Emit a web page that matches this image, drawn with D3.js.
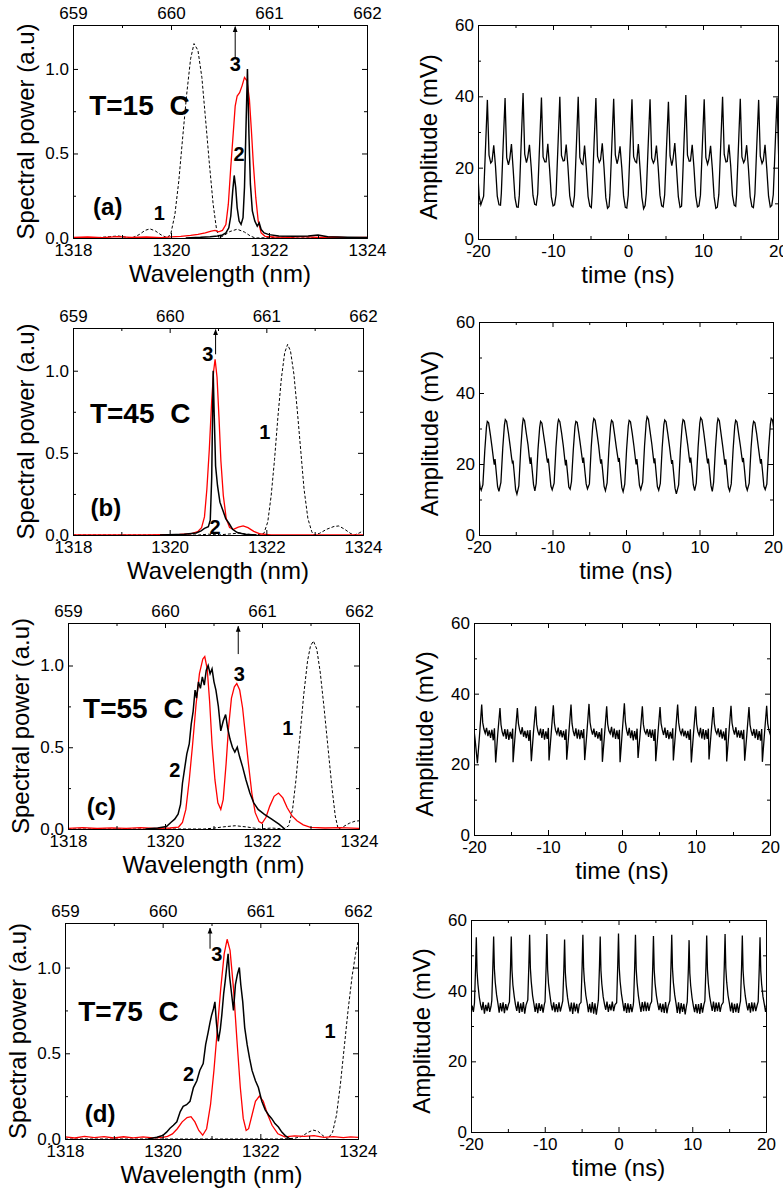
<!DOCTYPE html>
<html>
<head>
<meta charset="utf-8">
<script src="https://d3js.org/d3.v7.min.js"></script>
<style>
  body { margin: 0; background: #fff; }
  svg text { font-family: "Liberation Sans", Arial, sans-serif; fill: #000; }
</style>
</head>
<body>
<svg id="fig" width="783" height="1194"></svg>
<script>
// ---- axis ticks ----
var wlRange = [1318, 1324];
var halfRange = [659, 662];
var wlTicks = [1318, 1320, 1322, 1324];
var wlMinor = [1319, 1321, 1323];
var halfTicks = [659, 660, 661, 662];
var halfMinor = [659.5, 660.5, 661.5];
var powerRange = [0, 1.26];
var powerTicks = [0, 0.5, 1.0];
var powerMinor = [0.25, 0.75];
var timeRange = [-20, 20];
var timeTicks = [-20, -10, 0, 10, 20];
var timeMinor = [-15, -5, 5, 15];
var ampRange = [0, 60];
var ampTicks = [0, 20, 40, 60];
var ampMinor = [10, 30, 50];

// ---- spectra, [wavelength nm, power a.u.] ----
var dashA = [[1318.0,0],[1318.5,0.002],[1318.75,0.008],[1318.92,0.012],[1319.1,0.004],[1319.2,0.0],[1319.35,0.02],[1319.47,0.045],[1319.57,0.054],[1319.68,0.042],[1319.8,0.018],[1319.93,0.0],[1320.0,0.03],[1320.08,0.14],[1320.16,0.34],[1320.24,0.6],[1320.32,0.85],[1320.4,1.06],[1320.47,1.15],[1320.55,1.11],[1320.63,0.95],[1320.7,0.72],[1320.78,0.45],[1320.86,0.2],[1320.93,0.05],[1320.98,0.0],[1321.08,0.015],[1321.2,0.038],[1321.35,0.052],[1321.5,0.035],[1321.62,0.012],[1321.72,0.0],[1322.0,0.002],[1322.3,0.006],[1322.6,0.0],[1323.0,0.002],[1324.0,0.0]];
var redA = [[1318.0,0.003],[1318.3,0.006],[1318.6,0.002],[1318.9,0.008],[1319.2,0.003],[1319.5,0.006],[1319.8,0.002],[1320.0,0.007],[1320.2,0.01],[1320.4,0.015],[1320.55,0.022],[1320.7,0.03],[1320.82,0.04],[1320.9,0.045],[1320.97,0.036],[1321.05,0.045],[1321.12,0.08],[1321.17,0.2],[1321.22,0.42],[1321.27,0.62],[1321.31,0.78],[1321.35,0.84],[1321.4,0.86],[1321.45,0.9],[1321.5,0.95],[1321.55,0.93],[1321.6,0.82],[1321.64,0.64],[1321.68,0.44],[1321.73,0.24],[1321.78,0.1],[1321.84,0.03],[1321.92,0.01],[1322.1,0.006],[1322.4,0.004],[1322.7,0.008],[1323.0,0.003],[1323.3,0.006],[1323.6,0.002],[1324.0,0.004]];
var blackA = [[1320.3,0.0],[1320.6,0.004],[1320.8,0.008],[1320.95,0.012],[1321.05,0.018],[1321.12,0.03],[1321.18,0.06],[1321.22,0.13],[1321.26,0.28],[1321.29,0.37],[1321.32,0.3],[1321.35,0.18],[1321.39,0.1],[1321.43,0.08],[1321.47,0.12],[1321.5,0.3],[1321.53,0.65],[1321.56,1.0],[1321.59,0.62],[1321.62,0.32],[1321.66,0.16],[1321.71,0.1],[1321.76,0.07],[1321.8,0.09],[1321.84,0.05],[1321.9,0.03],[1322.0,0.02],[1322.2,0.012],[1322.5,0.01],[1322.8,0.012],[1323.0,0.018],[1323.2,0.008],[1323.6,0.005],[1324.0,0.003]];

var dashB = [[1318.0,0],[1320.6,0.0],[1320.8,0.005],[1321.0,0.0],[1321.3,0.008],[1321.45,0.012],[1321.6,0.005],[1321.8,0.0],[1321.95,0.01],[1322.03,0.08],[1322.1,0.24],[1322.17,0.46],[1322.24,0.72],[1322.31,0.95],[1322.38,1.11],[1322.44,1.16],[1322.5,1.12],[1322.57,0.98],[1322.64,0.76],[1322.71,0.52],[1322.78,0.28],[1322.86,0.1],[1322.94,0.02],[1322.98,0.0],[1323.1,0.01],[1323.25,0.035],[1323.4,0.052],[1323.5,0.055],[1323.62,0.035],[1323.75,0.008],[1323.82,0.0],[1323.92,0.012],[1324.0,0.025]];
var redB = [[1318.0,0.001],[1319.5,0.001],[1320.2,0.003],[1320.45,0.008],[1320.58,0.02],[1320.66,0.045],[1320.72,0.11],[1320.77,0.28],[1320.82,0.52],[1320.87,0.82],[1320.91,1.0],[1320.94,1.07],[1320.98,0.96],[1321.02,0.72],[1321.06,0.45],[1321.11,0.24],[1321.17,0.1],[1321.24,0.045],[1321.32,0.035],[1321.42,0.048],[1321.52,0.055],[1321.62,0.045],[1321.74,0.022],[1321.88,0.006],[1322.1,0.001],[1324.0,0.0]];
var blackB = [[1319.8,0.0],[1320.3,0.004],[1320.55,0.012],[1320.65,0.025],[1320.72,0.04],[1320.8,0.05],[1320.84,0.09],[1320.87,0.35],[1320.9,1.0],[1320.92,0.75],[1320.95,0.42],[1320.99,0.3],[1321.04,0.2],[1321.1,0.15],[1321.16,0.1],[1321.23,0.07],[1321.3,0.035],[1321.4,0.015],[1321.55,0.005],[1321.8,0.0]];

var dashC = [[1318.0,0],[1320.8,0.0],[1321.0,0.005],[1321.2,0.013],[1321.45,0.02],[1321.7,0.012],[1321.95,0.0],[1322.2,0.006],[1322.45,0.0],[1322.55,0.02],[1322.63,0.12],[1322.7,0.3],[1322.78,0.56],[1322.86,0.82],[1322.94,1.03],[1323.0,1.12],[1323.06,1.15],[1323.13,1.1],[1323.2,0.96],[1323.28,0.74],[1323.36,0.5],[1323.44,0.26],[1323.51,0.08],[1323.57,0.0],[1323.68,0.015],[1323.8,0.035],[1323.92,0.048],[1324.0,0.05]];
var redC = [[1318.0,0.004],[1318.3,0.008],[1318.6,0.003],[1318.9,0.007],[1319.2,0.004],[1319.5,0.008],[1319.8,0.003],[1320.1,0.006],[1320.28,0.012],[1320.36,0.04],[1320.43,0.12],[1320.5,0.3],[1320.57,0.52],[1320.64,0.76],[1320.71,0.95],[1320.78,1.04],[1320.82,1.055],[1320.87,0.98],[1320.92,0.78],[1320.97,0.52],[1321.03,0.3],[1321.09,0.16],[1321.15,0.12],[1321.2,0.18],[1321.26,0.4],[1321.31,0.62],[1321.37,0.8],[1321.43,0.87],[1321.48,0.89],[1321.54,0.85],[1321.6,0.74],[1321.66,0.57],[1321.72,0.4],[1321.79,0.22],[1321.86,0.1],[1321.94,0.045],[1322.0,0.035],[1322.08,0.07],[1322.16,0.14],[1322.25,0.2],[1322.34,0.22],[1322.43,0.19],[1322.52,0.13],[1322.62,0.08],[1322.72,0.05],[1322.85,0.025],[1323.0,0.01],[1323.3,0.006],[1323.6,0.008],[1324.0,0.004]];
var blackC = [[1319.6,0.0],[1319.85,0.006],[1320.03,0.015],[1320.12,0.04],[1320.2,0.06],[1320.27,0.09],[1320.32,0.15],[1320.36,0.28],[1320.41,0.38],[1320.45,0.46],[1320.5,0.52],[1320.54,0.64],[1320.58,0.72],[1320.62,0.85],[1320.65,0.8],[1320.69,0.9],[1320.73,0.86],[1320.77,0.93],[1320.81,0.88],[1320.85,0.97],[1320.89,1.0],[1320.93,0.95],[1320.97,0.98],[1321.01,0.9],[1321.05,0.85],[1321.1,0.75],[1321.15,0.6],[1321.2,0.66],[1321.25,0.7],[1321.29,0.62],[1321.34,0.55],[1321.39,0.5],[1321.44,0.47],[1321.49,0.5],[1321.54,0.44],[1321.6,0.38],[1321.67,0.3],[1321.75,0.22],[1321.83,0.16],[1321.92,0.12],[1322.05,0.09],[1322.2,0.06],[1322.35,0.03],[1322.47,0.0]];

var dashD = [[1318.0,0.0],[1322.4,0.0],[1322.7,0.004],[1322.85,0.015],[1322.97,0.038],[1323.08,0.052],[1323.18,0.045],[1323.28,0.02],[1323.38,0.0],[1323.48,0.04],[1323.56,0.14],[1323.64,0.32],[1323.72,0.54],[1323.8,0.76],[1323.88,0.95],[1323.95,1.08],[1324.0,1.15]];
var redD = [[1318.0,0.012],[1318.2,0.006],[1318.4,0.015],[1318.6,0.008],[1318.8,0.014],[1319.0,0.006],[1319.2,0.013],[1319.4,0.007],[1319.6,0.012],[1319.8,0.006],[1320.0,0.01],[1320.1,0.015],[1320.2,0.03],[1320.3,0.06],[1320.4,0.1],[1320.5,0.125],[1320.58,0.13],[1320.66,0.1],[1320.74,0.05],[1320.82,0.022],[1320.9,0.06],[1320.98,0.2],[1321.05,0.4],[1321.12,0.64],[1321.19,0.88],[1321.26,1.08],[1321.32,1.165],[1321.38,1.1],[1321.45,0.88],[1321.52,0.58],[1321.59,0.3],[1321.65,0.12],[1321.71,0.05],[1321.76,0.06],[1321.83,0.14],[1321.9,0.22],[1321.98,0.25],[1322.06,0.22],[1322.14,0.15],[1322.24,0.08],[1322.36,0.03],[1322.5,0.012],[1322.7,0.018],[1322.9,0.015],[1323.1,0.02],[1323.3,0.01],[1323.5,0.014],[1323.7,0.008],[1323.85,0.012],[1324.0,0.01]];
var blackD = [[1319.7,0.0],[1319.88,0.01],[1320.0,0.02],[1320.08,0.04],[1320.15,0.063],[1320.22,0.08],[1320.29,0.1],[1320.36,0.16],[1320.42,0.19],[1320.49,0.2],[1320.56,0.22],[1320.63,0.3],[1320.7,0.34],[1320.76,0.4],[1320.83,0.44],[1320.88,0.55],[1320.93,0.62],[1320.97,0.68],[1321.0,0.72],[1321.04,0.76],[1321.07,0.8],[1321.1,0.68],[1321.14,0.57],[1321.18,0.64],[1321.21,0.72],[1321.25,0.85],[1321.28,0.92],[1321.31,1.0],[1321.34,1.08],[1321.37,0.95],[1321.41,0.85],[1321.45,0.75],[1321.49,0.9],[1321.53,0.96],[1321.57,1.0],[1321.6,0.9],[1321.64,0.8],[1321.68,0.65],[1321.73,0.55],[1321.78,0.47],[1321.83,0.4],[1321.9,0.34],[1321.96,0.3],[1322.03,0.22],[1322.1,0.17],[1322.17,0.14],[1322.23,0.12],[1322.3,0.09],[1322.37,0.07],[1322.44,0.04],[1322.51,0.02],[1322.61,0.0]];

// arrows [wavelength, from power, to power]
var arrowA = [1321.31, 1.07, 1.25];
var arrowB = [1320.95, 1.10, 1.25];
var arrowC = [1321.51, 1.07, 1.24];
var arrowD = [1320.97, 1.11, 1.23];

// curve numbers [text, wavelength, power]
var numsA = [["1", 1319.76, 0.15], ["2", 1321.39, 0.5], ["3", 1321.31, 1.03]];
var numsB = [["1", 1321.97, 0.63], ["2", 1320.94, 0.05], ["3", 1320.79, 1.10]];
var numsC = [["1", 1322.53, 0.62], ["2", 1320.2, 0.36], ["3", 1321.53, 0.95]];
var numsD = [["1", 1323.43, 0.63], ["2", 1320.53, 0.38], ["3", 1321.11, 1.08]];

var tags = ["(a)", "(b)", "(c)", "(d)"];
var tagPos = [[1318.71, 0.19], [1318.68, 0.17], [1318.69, 0.14], [1318.72, 0.15]];
var temps = ["T=15 C", "T=45 C", "T=55 C", "T=75 C"];
var tempPos = [[1318.33, 0.73], [1318.35, 0.68], [1318.31, 0.68], [1318.27, 0.69]];

// ---- time traces: peak times (ns), sample offsets from each peak, values (mV) per period ----
var startA = [[-20, 17.5], [-19.85, 12.0], [-19.62, 9.6]];
var peaksA = [-18.75, -16.39, -13.99, -11.54, -9.09, -6.64, -4.28, -1.91, 0.53, 2.94, 5.39, 7.71, 10.16, 12.61, 14.97, 17.42, 19.87];
var offsetsA = [-0.5, -0.25, 0, 0.22, 0.45, 0.62, 0.85, 1.08, 1.32, 1.55, 1.75];
var rowsA = [
  [12.0, 25.5, 39.0, 23.5, 21.3, 21.8, 26.3, 20.5, 12.0, 9.6, 9.5],
  [12.8, 26.5, 39.5, 22.8, 20.8, 22.4, 26.6, 19.5, 11.5, 9.0, 8.9],
  [12.3, 27.0, 40.9, 23.8, 21.4, 22.9, 26.4, 20.2, 12.2, 9.7, 9.5],
  [12.6, 26.2, 39.7, 23.0, 21.6, 21.6, 26.7, 19.8, 11.8, 9.3, 9.6],
  [12.4, 26.0, 39.9, 23.4, 21.9, 22.0, 26.5, 20.4, 12.1, 9.4, 9.0],
  [12.1, 25.8, 39.9, 22.9, 21.2, 20.9, 26.2, 19.9, 11.9, 9.2, 8.8],
  [12.7, 26.4, 39.5, 23.2, 21.5, 22.2, 26.8, 20.1, 11.6, 8.6, 9.1],
  [12.5, 26.1, 39.3, 23.6, 21.1, 22.6, 26.0, 20.0, 12.0, 8.9, 8.7],
  [12.2, 25.7, 39.2, 23.1, 21.7, 21.4, 26.6, 19.6, 11.7, 8.5, 9.4],
  [12.9, 26.3, 39.2, 22.7, 21.3, 22.1, 26.2, 20.3, 12.3, 9.3, 9.0],
  [12.4, 25.9, 38.5, 23.3, 20.6, 22.5, 26.9, 19.7, 11.9, 8.9, 9.2],
  [12.6, 26.6, 40.4, 23.5, 21.8, 21.9, 26.4, 20.2, 12.1, 9.0, 9.3],
  [12.3, 26.0, 39.2, 22.9, 21.0, 22.3, 26.1, 19.9, 11.8, 8.6, 8.9],
  [12.5, 26.2, 39.9, 23.7, 21.6, 21.7, 26.5, 20.6, 12.2, 9.5, 9.2],
  [12.2, 25.6, 39.3, 23.0, 21.4, 22.2, 26.3, 20.1, 11.9, 9.1, 8.8],
  [12.7, 26.3, 39.0, 23.2, 21.2, 22.0, 26.4, 19.8, 12.0, 9.0, 9.4],
  [12.4, 26.0, 39.7, 23.1, 21.4, 22.0, 26.5, 20.0, 12.0, 9.3, 9.4]
];

var startB = [[-20, 16.4], [-19.85, 13.4], [-19.7, 12.6]];
var peaksB = [-18.87, -16.42, -13.98, -11.62, -9.18, -6.82, -4.38, -1.97, 0.43, 2.87, 5.27, 7.76, 10.16, 12.52, 14.92, 17.36, 19.76];
var offsetsB = [-0.6, -0.35, -0.12, 0, 0.18, 0.42, 0.65, 0.85, 0.95, 1.05, 1.22, 1.4, 1.58];
var rowsB = [
  [14.2, 23.5, 30.3, 32.0, 31.6, 28.2, 24.6, 21.2, 19.8, 21.4, 17.6, 13.6, 12.3],
  [14.8, 24.4, 31.0, 32.5, 32.0, 28.8, 25.2, 21.8, 20.5, 21.0, 17.2, 12.8, 11.5],
  [13.8, 23.8, 30.8, 32.8, 32.2, 28.6, 25.4, 21.4, 20.0, 21.9, 18.2, 14.2, 12.4],
  [14.5, 24.2, 30.4, 32.0, 31.5, 28.0, 24.8, 21.6, 20.4, 21.5, 17.9, 13.8, 12.7],
  [14.6, 24.6, 31.2, 32.5, 31.9, 28.7, 25.1, 21.3, 19.6, 21.2, 17.5, 13.5, 12.9],
  [15.0, 24.0, 30.6, 32.0, 31.7, 28.4, 24.9, 21.7, 20.3, 21.8, 18.1, 14.4, 13.0],
  [14.4, 24.8, 31.4, 32.8, 32.3, 28.9, 25.3, 21.5, 20.1, 21.3, 17.8, 13.7, 12.5],
  [14.7, 24.3, 30.9, 32.3, 31.8, 28.3, 24.7, 21.9, 20.6, 21.7, 17.4, 13.4, 12.2],
  [14.3, 24.1, 30.7, 32.3, 31.9, 28.6, 25.0, 21.4, 19.9, 21.4, 18.0, 14.0, 12.8],
  [14.9, 25.0, 31.8, 33.3, 32.6, 29.0, 25.5, 21.8, 20.2, 21.6, 17.7, 13.6, 12.6],
  [14.5, 24.5, 31.1, 32.4, 31.9, 28.5, 24.9, 21.5, 20.0, 21.1, 17.3, 13.2, 11.6],
  [14.1, 24.2, 30.9, 32.5, 32.1, 28.7, 25.2, 21.7, 20.4, 21.8, 18.3, 14.1, 12.5],
  [14.6, 24.7, 31.5, 33.0, 32.4, 28.9, 25.1, 21.6, 20.2, 21.5, 17.9, 13.9, 12.3],
  [14.8, 24.4, 31.3, 32.8, 32.2, 28.4, 24.8, 21.4, 19.8, 21.3, 17.6, 13.5, 12.4],
  [14.4, 24.0, 30.8, 32.3, 31.8, 28.3, 25.0, 21.8, 20.5, 21.7, 18.0, 13.8, 12.6],
  [14.6, 24.3, 30.6, 32.0, 31.6, 28.5, 24.7, 21.5, 20.1, 21.4, 17.8, 13.7, 12.8],
  [14.3, 24.6, 31.2, 32.8, 32.3, 28.8, 25.2, 21.6, 20.3, 21.6, 17.9, 13.8, 12.6]
];

var startC = [[-20, 29.8], [-19.85, 27.0]];
var peaksC = [-18.96, -16.49, -14.14, -11.67, -9.28, -6.89, -4.46, -2.07, 0.32, 2.75, 5.14, 7.52, 9.95, 12.34, 14.73, 17.16, 19.55];
var offsetsC = [-0.58, -0.3, 0, 0.14, 0.3, 0.48, 0.66, 0.84, 1.02, 1.2, 1.38, 1.56, 1.72];
var rowsC = [
  [20.3, 28.0, 36.9, 31.8, 30.0, 28.8, 30.3, 28.0, 29.6, 27.5, 29.8, 26.8, 30.2],
  [20.5, 28.6, 35.9, 31.2, 29.2, 27.9, 30.0, 27.2, 29.9, 26.9, 29.2, 27.3, 30.1],
  [20.6, 28.3, 35.9, 31.6, 29.8, 28.5, 30.5, 27.8, 29.5, 27.4, 29.6, 26.6, 29.7],
  [20.9, 28.9, 36.4, 31.3, 29.4, 28.2, 30.1, 27.5, 30.0, 27.0, 29.3, 27.2, 30.3],
  [21.1, 28.4, 36.7, 31.7, 29.6, 28.6, 30.4, 27.9, 29.7, 27.6, 29.5, 26.9, 29.9],
  [21.3, 28.7, 36.9, 31.5, 29.3, 28.0, 30.2, 27.3, 29.8, 27.1, 29.7, 27.4, 30.0],
  [21.2, 28.5, 37.1, 31.9, 29.9, 28.4, 30.1, 27.7, 29.4, 27.3, 29.1, 26.7, 30.2],
  [20.7, 28.2, 36.4, 31.4, 29.5, 28.7, 30.6, 27.6, 30.1, 27.2, 29.6, 27.1, 29.8],
  [20.6, 28.8, 37.3, 32.0, 29.7, 28.1, 30.3, 27.4, 29.6, 26.8, 29.4, 27.0, 30.1],
  [21.8, 28.6, 36.4, 31.3, 29.4, 28.6, 30.0, 27.8, 29.9, 27.5, 29.8, 26.6, 30.0],
  [20.9, 28.3, 36.2, 31.6, 29.8, 28.3, 30.4, 27.5, 29.7, 27.1, 29.2, 27.3, 30.2],
  [21.1, 28.7, 36.9, 31.8, 29.6, 28.5, 30.1, 27.9, 29.5, 27.4, 29.5, 26.9, 29.9],
  [20.5, 28.4, 36.4, 31.4, 29.3, 28.2, 30.3, 27.3, 30.0, 27.0, 29.7, 27.2, 30.1],
  [21.4, 28.8, 36.2, 31.5, 29.5, 28.6, 30.2, 27.7, 29.8, 27.3, 29.3, 26.8, 30.3],
  [20.8, 28.5, 36.6, 31.7, 29.8, 28.4, 30.5, 27.6, 29.6, 27.5, 29.6, 27.1, 29.8],
  [21.0, 28.2, 36.2, 31.2, 29.4, 28.1, 30.0, 27.4, 29.9, 26.9, 29.4, 26.7, 30.0],
  [20.7, 28.6, 36.6, 31.6, 29.7, 28.5, 30.3, 27.8, 29.7, 27.2, 29.5, 27.0, 30.1]
];

var startD = [[-20, 33.5], [-19.85, 35.8], [-19.68, 34.0]];
var peaksD = [-19.28, -16.93, -14.54, -12.05, -9.71, -7.31, -4.83, -2.48, 0.0, 2.30, 4.74, 7.22, 9.57, 11.96, 14.45, 16.79, 19.19];
var offsetsD = [-0.25, -0.1, 0, 0.1, 0.22, 0.4, 0.58, 0.75, 0.92, 1.1, 1.28, 1.46, 1.64, 1.82, 2.0];
var rowsD = [
  [36.5, 46.5, 55.1, 45.5, 41.8, 38.2, 36.0, 34.5, 36.8, 33.5, 36.0, 34.2, 36.6, 34.0, 35.6],
  [37.2, 47.4, 55.3, 46.2, 42.3, 38.8, 36.4, 33.8, 36.5, 34.1, 36.7, 33.6, 36.2, 34.4, 36.0],
  [36.8, 46.8, 55.3, 45.8, 41.6, 38.4, 35.9, 34.3, 36.9, 33.7, 36.4, 34.0, 36.8, 33.5, 35.9],
  [37.4, 47.6, 55.8, 46.4, 42.5, 38.6, 36.3, 34.0, 36.4, 33.6, 36.5, 34.3, 36.1, 33.8, 36.2],
  [36.9, 47.0, 56.0, 46.0, 42.0, 38.9, 36.1, 34.4, 36.7, 33.9, 36.2, 33.9, 36.7, 34.1, 35.7],
  [37.1, 46.2, 54.5, 45.2, 41.5, 38.1, 35.8, 34.1, 36.6, 33.4, 36.6, 34.1, 36.3, 33.6, 36.1],
  [36.7, 47.2, 55.8, 46.3, 42.4, 38.7, 36.5, 33.9, 36.3, 33.8, 36.8, 33.5, 36.4, 33.2, 35.8],
  [37.3, 46.9, 55.3, 45.7, 41.9, 38.3, 36.2, 34.6, 36.9, 34.0, 36.1, 34.4, 36.9, 34.2, 36.0],
  [36.6, 47.5, 56.2, 46.5, 42.6, 39.0, 36.6, 34.2, 36.5, 33.7, 36.4, 33.8, 36.2, 33.9, 35.9],
  [37.0, 47.1, 55.8, 46.1, 42.2, 38.5, 36.0, 34.0, 36.8, 34.2, 36.9, 34.2, 36.6, 34.3, 36.1],
  [36.9, 46.7, 55.5, 45.9, 42.0, 38.6, 36.3, 34.5, 36.4, 33.9, 36.3, 33.7, 36.8, 33.6, 35.7],
  [37.2, 47.3, 55.8, 46.3, 42.3, 38.8, 36.4, 33.7, 36.7, 33.5, 36.5, 34.0, 36.3, 33.3, 35.8],
  [36.8, 46.0, 54.3, 45.0, 41.4, 38.0, 35.7, 33.9, 36.2, 33.6, 36.2, 33.4, 36.5, 33.8, 36.0],
  [37.1, 47.0, 55.6, 46.0, 42.1, 38.4, 36.2, 34.3, 36.9, 34.0, 36.6, 34.2, 36.7, 34.0, 35.9],
  [36.7, 47.4, 56.0, 46.4, 42.4, 38.7, 36.5, 34.1, 36.6, 33.7, 36.3, 33.9, 36.4, 33.7, 36.1],
  [37.0, 46.8, 55.6, 45.8, 41.9, 38.5, 36.1, 34.4, 36.5, 33.8, 36.7, 34.1, 36.6, 34.2, 35.8],
  [36.9, 46.6, 55.1, 45.6, 41.8, 38.3, 36.2, 34.0, 36.5, 33.9, 36.4, 34.0, 36.5, 33.8, 35.9]
];

// ---- layout ----
var specBoxes = [
  {x0: 73, x1: 367, y0: 25, y1: 238},
  {x0: 73, x1: 363, y0: 328, y1: 535},
  {x0: 68, x1: 359, y0: 623, y1: 829},
  {x0: 65, x1: 358, y0: 923, y1: 1139}
];
var timeBoxes = [
  {x0: 478, x1: 778, y0: 25, y1: 239},
  {x0: 479, x1: 773, y0: 322, y1: 535},
  {x0: 474, x1: 770, y0: 623, y1: 835},
  {x0: 471, x1: 766, y0: 920, y1: 1132}
];

var svg = d3.select("#fig");
var defs = svg.append("defs");
defs.append("marker")
    .attr("id", "head")
    .attr("viewBox", "0 0 10 10")
    .attr("refX", 9).attr("refY", 5)
    .attr("markerWidth", 6).attr("markerHeight", 7)
    .attr("orient", "auto")
  .append("path")
    .attr("d", "M0,1 L10,5 L0,9 z")
    .attr("fill", "#000");

function styleAxis(sel) {
  sel.attr("font-family", null).attr("font-size", null);
  sel.selectAll("path, line").attr("stroke", "#000").attr("stroke-width", 1);
  sel.selectAll("text").style("font-size", "17px");
}

// box with inward ticks on four sides
function drawFrame(g, x, y, box, o) {
  var sides = [
    [d3.axisBottom, x, "translate(0," + box.y1 + ")", o.xMajor, o.xMinor, o.xFmt, 6],
    [d3.axisTop, o.xTop || x, "translate(0," + box.y0 + ")", o.topMajor || o.xMajor, o.topMinor || o.xMinor, o.topFmt, 6],
    [d3.axisLeft, y, "translate(" + box.x0 + ",0)", o.yMajor, o.yMinor, o.yFmt, 4],
    [d3.axisRight, y, "translate(" + box.x1 + ",0)", o.yMajor, o.yMinor, null, 4]
  ];
  sides.forEach(function (s) {
    var major = s[0](s[1]).tickValues(s[3]).tickSize(-5).tickSizeOuter(0).tickPadding(s[6])
        .tickFormat(s[5] ? s[5] : function () { return ""; });
    g.append("g").attr("transform", s[2]).call(major).call(styleAxis);
    var minor = s[0](s[1]).tickValues(s[4]).tickSize(-3).tickSizeOuter(0).tickFormat(function () { return ""; });
    g.append("g").attr("transform", s[2]).call(minor).call(styleAxis);
  });
}

function clipFor(g, box, id) {
  defs.append("clipPath").attr("id", id)
    .append("rect").attr("x", box.x0).attr("y", box.y0)
    .attr("width", box.x1 - box.x0).attr("height", box.y1 - box.y0);
  return g.append("g").attr("clip-path", "url(#" + id + ")");
}

var spectra = [
  {dash: dashA, red: redA, black: blackA, arrow: arrowA, nums: numsA},
  {dash: dashB, red: redB, black: blackB, arrow: arrowB, nums: numsB},
  {dash: dashC, red: redC, black: blackC, arrow: arrowC, nums: numsC},
  {dash: dashD, red: redD, black: blackD, arrow: arrowD, nums: numsD}
];

spectra.forEach(function (s, i) {
  var box = specBoxes[i];
  var x = d3.scaleLinear().domain(wlRange).range([box.x0, box.x1]);
  var xTop = d3.scaleLinear().domain(halfRange).range([box.x0, box.x1]);
  var y = d3.scaleLinear().domain(powerRange).range([box.y1, box.y0]);
  var g = svg.append("g");
  var line = d3.line().x(function (d) { return x(d[0]); }).y(function (d) { return y(d[1]); });

  var plot = clipFor(g, box, "clipS" + i);
  plot.append("path").datum(s.dash).attr("d", line)
    .attr("fill", "none").attr("stroke", "#000").attr("stroke-width", 1).attr("stroke-dasharray", "3,2");
  plot.append("path").datum(s.red).attr("d", line)
    .attr("fill", "none").attr("stroke", "#ff0000").attr("stroke-width", 1.3);
  plot.append("path").datum(s.black).attr("d", line)
    .attr("fill", "none").attr("stroke", "#000").attr("stroke-width", 1.5);

  drawFrame(g, x, y, box, {
    xMajor: wlTicks, xMinor: wlMinor, xFmt: function (d) { return String(d); },
    xTop: xTop, topMajor: halfTicks, topMinor: halfMinor, topFmt: function (d) { return String(d); },
    yMajor: powerTicks, yMinor: powerMinor, yFmt: d3.format(".1f")
  });

  // arrow marking line 3
  g.append("line")
    .attr("x1", x(s.arrow[0])).attr("x2", x(s.arrow[0]))
    .attr("y1", y(s.arrow[1])).attr("y2", y(s.arrow[2]))
    .attr("stroke", "#000").attr("stroke-width", 1).attr("marker-end", "url(#head)");

  g.selectAll("text.num").data(s.nums).enter().append("text")
    .attr("class", "num")
    .attr("x", function (d) { return x(d[1]); })
    .attr("y", function (d) { return y(d[2]); })
    .attr("text-anchor", "middle").attr("dy", "0.36em")
    .style("font-size", "20px").style("font-weight", "bold")
    .text(function (d) { return d[0]; });

  g.append("text")
    .attr("x", x(tagPos[i][0])).attr("y", y(tagPos[i][1]))
    .attr("text-anchor", "middle").attr("dy", "0.36em")
    .style("font-size", "24px").style("font-weight", "bold")
    .text(tags[i]);

  g.append("text")
    .attr("x", x(tempPos[i][0])).attr("y", y(tempPos[i][1]))
    .style("font-size", "28px").style("font-weight", "bold").style("word-spacing", "8px")
    .text(temps[i]);

  g.append("text")
    .attr("x", (box.x0 + box.x1) / 2).attr("y", box.y1 + 44)
    .attr("text-anchor", "middle").style("font-size", "24px")
    .text("Wavelength (nm)");

  g.append("text")
    .attr("transform", "translate(" + (box.x0 - 39) + "," + ((box.y0 + box.y1) / 2) + ") rotate(-90)")
    .attr("text-anchor", "middle").style("font-size", "24px")
    .text("Spectral power (a.u)");
});

function tracePoints(start, peaks, offsets, rows) {
  var pts = start.slice();
  peaks.forEach(function (tp, i) {
    rows[i].forEach(function (v, j) { pts.push([tp + offsets[j], v]); });
  });
  return pts;
}

var traces = [
  tracePoints(startA, peaksA, offsetsA, rowsA),
  tracePoints(startB, peaksB, offsetsB, rowsB),
  tracePoints(startC, peaksC, offsetsC, rowsC),
  tracePoints(startD, peaksD, offsetsD, rowsD)
];

traces.forEach(function (pts, i) {
  var box = timeBoxes[i];
  var x = d3.scaleLinear().domain(timeRange).range([box.x0, box.x1]);
  var y = d3.scaleLinear().domain(ampRange).range([box.y1, box.y0]);
  var g = svg.append("g");
  var line = d3.line().x(function (d) { return x(d[0]); }).y(function (d) { return y(d[1]); });

  var plot = clipFor(g, box, "clipT" + i);
  plot.append("path").datum(pts).attr("d", line)
    .attr("fill", "none").attr("stroke", "#000").attr("stroke-width", 1.3);

  drawFrame(g, x, y, box, {
    xMajor: timeTicks, xMinor: timeMinor, xFmt: function (d) { return String(d); },
    topFmt: null,
    yMajor: ampTicks, yMinor: ampMinor, yFmt: function (d) { return String(d); }
  });

  g.append("text")
    .attr("x", (box.x0 + box.x1) / 2).attr("y", box.y1 + 44)
    .attr("text-anchor", "middle").style("font-size", "24px")
    .text("time (ns)");

  g.append("text")
    .attr("transform", "translate(" + (box.x0 - 41) + "," + ((box.y0 + box.y1) / 2 + 5) + ") rotate(-90)")
    .attr("text-anchor", "middle").style("font-size", "24px")
    .text("Amplitude (mV)");
});
</script>
</body>
</html>
